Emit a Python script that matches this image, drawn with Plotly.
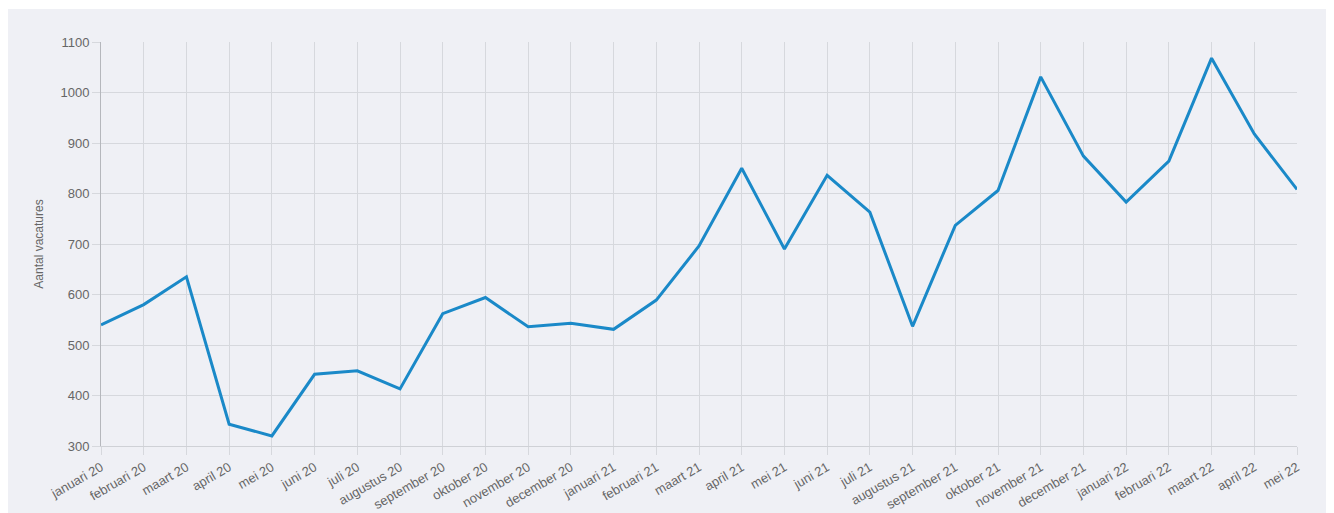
import plotly.graph_objects as go

months = ["januari 20", "februari 20", "maart 20", "april 20", "mei 20", "juni 20", "juli 20",
          "augustus 20", "september 20", "oktober 20", "november 20", "december 20",
          "januari 21", "februari 21", "maart 21", "april 21", "mei 21", "juni 21", "juli 21",
          "augustus 21", "september 21", "oktober 21", "november 21", "december 21",
          "januari 22", "februari 22", "maart 22", "april 22", "mei 22"]
vacatures = [540, 580, 635, 343, 320, 442, 449, 413, 562, 594, 536, 543,
             531, 589, 696, 850, 690, 836, 763, 537, 737, 806, 1031, 874,
             783, 864, 1068, 918, 808]
y_ticks = [300, 400, 500, 600, 700, 800, 900, 1000, 1100]

fig = go.Figure()
fig.add_trace(go.Scatter(x=months, y=vacatures, mode="lines",
                         line=dict(color="#1a89c8", width=3)))

grid = "#d6d8dd"
fig.update_layout(
    width=1334, height=513,
    margin=dict(l=93, r=45, t=34, b=75),
    paper_bgcolor="white", plot_bgcolor="#eff0f5",
    showlegend=False,
    font=dict(family="Liberation Sans, Arial, sans-serif", size=13, color="#666666"),
    shapes=[dict(type="rect", xref="paper", yref="paper", x0=-0.078, x1=1.0284,
                 y0=-0.3, y1=1.0817, fillcolor="#eff0f5", line=dict(width=0), layer="below")],
    xaxis=dict(type="category", tickangle=-30, showgrid=True, gridcolor=grid, gridwidth=1,
               ticks="outside", ticklen=8, tickcolor=grid, range=[0, len(months) - 1],
               showline=True, linecolor="#cfd1d6", tickfont=dict(size=13, color="#666666"),
               zeroline=False, automargin=False),
    yaxis=dict(range=[300, 1100], tickvals=y_ticks, showgrid=True, gridcolor=grid,
               ticks="outside", ticklen=8, tickcolor=grid, showline=True, linecolor="#b5b7bc",
               zeroline=False, tickfont=dict(size=13, color="#666666"), automargin=False,
               title=dict(text="Aantal vacatures", font=dict(size=12, color="#666666"), standoff=14)),
)
fig.write_html("out.html")
